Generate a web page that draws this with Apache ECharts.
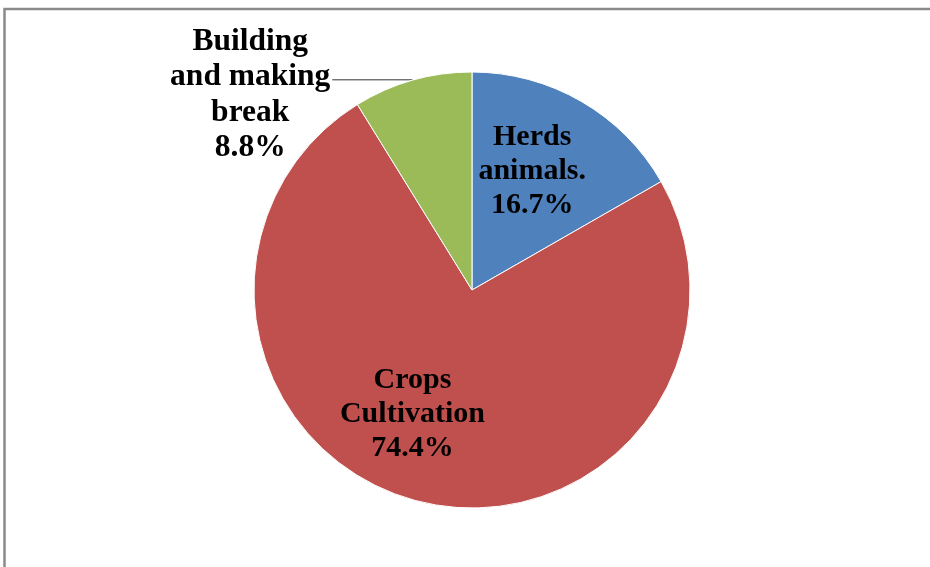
<!DOCTYPE html>
<html>
<head>
<meta charset="utf-8">
<script src="https://cdn.jsdelivr.net/npm/echarts@6/dist/echarts.min.js"></script>
<style>
  html, body { margin: 0; padding: 0; background: #fff; }
  #chart { width: 930px; height: 567px; }
</style>
</head>
<body>
<div id="chart"></div>
<script>
// Shares of activity, clockwise from 12 o'clock
const categories = ['Herds\nanimals.', 'Crops\nCultivation', 'Building\nand making\nbreak'];
const shares = [16.7, 74.4, 8.8];
const colors = ['#4F81BD', '#C0504D', '#9BBB59'];

// Nudges for the labels drawn inside their slices
const insideShift = [{ dx: 4, dy: -22 }, { dx: -32, dy: 16 }, null];

const FONT = '"Liberation Serif", "Times New Roman", serif';

const data = categories.map((name, i) => {
  const item = { name: name, value: shares[i], itemStyle: { color: colors[i] } };
  if (insideShift[i]) {
    item.label = { position: 'inside' };
    item.labelLine = { show: false };
  } else {
    item.label = { position: 'outside', padding: [30, 0, 0, 0], distanceToLabelLine: 2 };
    item.labelLine = { show: true, length: 0.5, length2: 80 };
  }
  return item;
});

const chart = echarts.init(document.getElementById('chart'), null, { renderer: 'canvas' });
chart.setOption({
  animation: false,
  backgroundColor: '#fff',
  graphic: [{
    type: 'rect',
    shape: { x: 4.5, y: 9, width: 1000, height: 1000 },
    style: { fill: 'none', stroke: '#8a8a8a', lineWidth: 2.5 },
    silent: true
  }],
  series: [{
    type: 'pie',
    center: [472, 290],
    radius: 218,
    startAngle: 90,
    clockwise: true,
    avoidLabelOverlap: false,
    itemStyle: { borderColor: '#fff', borderWidth: 1 },
    label: {
      show: true,
      color: '#000',
      fontFamily: FONT,
      fontWeight: 'bold',
      fontSize: 30,
      formatter: function (p) {
        const tag = insideShift[p.dataIndex] ? 'c' : 'o';
        return (p.name + '\n' + p.value + '%').split('\n')
          .map(s => '{' + tag + '|' + s + '}').join('\n');
      },
      rich: {
        c: {
          align: 'center',
          color: '#000',
          fontFamily: FONT,
          fontWeight: 'bold',
          fontSize: 30,
          lineHeight: 34
        },
        o: {
          align: 'center',
          color: '#000',
          fontFamily: FONT,
          fontWeight: 'bold',
          fontSize: 31.5,
          lineHeight: 35.5
        }
      }
    },
    labelLine: {
      lineStyle: { color: '#333', width: 1 }
    },
    labelLayout: function (params) {
      const s = insideShift[params.dataIndex];
      return s ? { dx: s.dx, dy: s.dy } : {};
    },
    emphasis: { disabled: true },
    data: data
  }]
});
</script>
</body>
</html>
